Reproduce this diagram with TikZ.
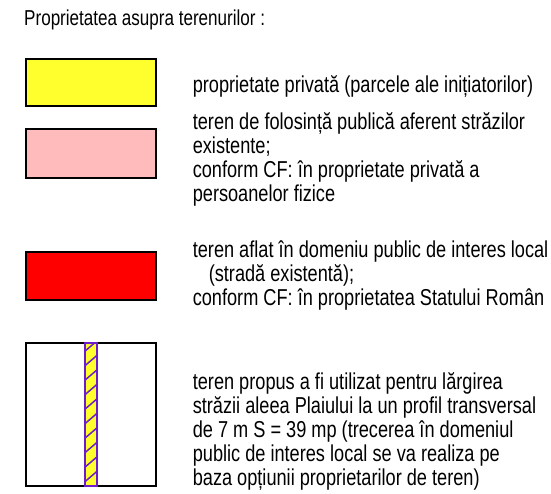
\documentclass[tikz,border=0pt]{standalone}
\usepackage{fontspec}
\setmainfont[FakeStretch=0.79]{Liberation Sans}
\usetikzlibrary{positioning}

\definecolor{privyellow}{RGB}{255,255,45}
\definecolor{pubpink}{RGB}{255,187,187}
\definecolor{domred}{RGB}{255,0,0}
\definecolor{stripviolet}{RGB}{108,28,200}

\begin{document}
\begin{tikzpicture}[x=1pt, y=-1pt,
        swatch/.style={draw, line width=1.6pt, minimum width=130pt, anchor=north west, inner sep=0pt},
        legend/.style={align=left, inner sep=0pt, font=\fontsize{23}{24}\selectfont}
    ]
        \useasboundingbox (0,0) rectangle (551,493);
        \node[legend, anchor=base west, font=\fontsize{21.6}{24}\selectfont] (title) at (24,25) {Proprietatea asupra terenurilor :};

        \node[swatch, fill=privyellow, minimum height=47pt] (priv) at (25,58) {};
        \node[swatch, fill=pubpink, minimum height=49pt] (pub) at (25,128) {};
        \node[swatch, fill=domred, minimum height=48pt] (dom) at (25,251) {};
        \node[swatch, fill=white, minimum height=143pt] (prop) at (25,342) {};
        \node[draw=stripviolet, fill=privyellow, line width=1.8pt, minimum width=12pt, minimum height=143pt, inner sep=0pt,
            path picture={\foreach \k in {0,...,10}
                \draw[stripviolet, line width=1.5pt] ([yshift=\k*14.5pt+4pt]path picture bounding box.south west) -- ++(14pt,12pt);}
            ] (strip) at (prop.center) {};

        \node[legend, right=36pt of priv, yshift=-4pt] (privtxt) {proprietate privată (parcele ale inițiatorilor)};
        \node[legend, right=36pt of pub, yshift=-6.6pt] (pubtxt) {teren de folosință publică aferent străzilor\\existente;\\conform CF: în proprietate privată a\\persoanelor fizice};
        \node[legend, right=36pt of dom, yshift=0.6pt] (domtxt) {teren aflat în domeniu public de interes local\\\hspace*{16pt}(stradă existentă);\\conform CF: în proprietatea Statului Român};
        \node[legend, right=36pt of prop, yshift=-16.8pt] (proptxt) {teren propus a fi utilizat pentru lărgirea\\străzii aleea Plaiului la un profil transversal\\de 7 m S = 39 mp (trecerea în domeniul\\public de interes local se va realiza pe\\baza opțiunii proprietarilor de teren)};
    \end{tikzpicture}
\end{document}
